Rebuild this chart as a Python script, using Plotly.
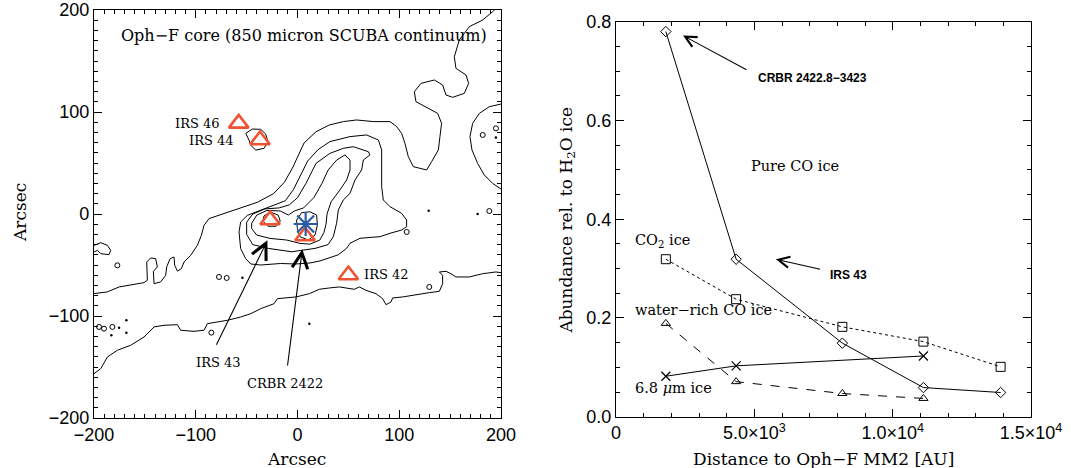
import plotly.graph_objects as go

# ---------------- Left panel: Oph-F core, 850 micron SCUBA contours ----------------
# Contour polylines in arcsec offsets (x, y)
ridge_north = [(-200, -78), (-187, -76.4), (-175.4, -71.5), (-164, -69.2), (-151, -67.3), (-147.6, -65),
               (-148.2, -47), (-144.3, -43.1), (-139.4, -43.8), (-137.8, -51.9), (-141.7, -56.2), (-141, -68.3),
               (-134.5, -66.6), (-129.6, -60.1), (-128.6, -51.9), (-125.3, -43.8), (-121.4, -42.1), (-120.7, -50.3),
               (-118, -56), (-114.2, -53.6), (-111.5, -47), (-105, -40.5), (-98.4, -30.7), (-94.5, -20.9),
               (-91.9, -11.1), (-87, -4.5), (-75.5, -0.6), (-62.4, 3.9), (-50, 7.5), (-39.5, 11.5), (-23.5, 20),
               (-13, 31), (-5, 45), (1, 58), (6.4, 69.6), (18.2, 80.7), (31.3, 87.3), (45, 90.6), (58.1, 92.2),
               (74.5, 90.6), (90.9, 90.6), (97.4, 85.7), (102.3, 79.1), (105.6, 69.3), (108.9, 56.2), (113.8, 46.4),
               (120.4, 44.8), (126.9, 43.2), (131.8, 51.3), (138.4, 62.8), (140, 75.9), (141.6, 89), (137.7, 98.7),
               (127.9, 103.6), (116.4, 110.1), (114.8, 119.9), (121.4, 128.1), (134.5, 131.4), (142.6, 126.5),
               (145.9, 116.7), (152.5, 114.4), (163.9, 118.3), (168.2, 128.1), (165.6, 136.3), (155.7, 142.8),
               (154.1, 154.2), (159, 170.6), (168.9, 183.7), (182, 190.2), (191.8, 198.4), (193.4, 200)]

ridge_south = [(-200, -156.5), (-193.4, -151.6), (-186.9, -140.2), (-177.1, -133.6), (-164, -128.7),
               (-150.9, -120.6), (-141, -110.7), (-131.2, -109.1), (-118.1, -108.5), (-114.8, -114),
               (-101.7, -115), (-91.9, -114), (-88.6, -107.5), (-69, -104.2), (-55.9, -101), (-46, -97.7),
               (-36.2, -92.8), (-23.1, -87.9), (-19.8, -83), (-10, -82.3), (-1.5, -81.3), (11.6, -78.1),
               (21.4, -73.8), (31.3, -72.5), (41.1, -71.5), (55.8, -73.8), (60.7, -71.5), (67.3, -74.8),
               (77.1, -78.1), (83.7, -83), (87, -88.9), (91.9, -86.2), (93.5, -82.3), (103.3, -81.3),
               (116.4, -79), (129.5, -77.1), (139.4, -75.8), (142.6, -68.3), (142.6, -60.1), (139.4, -56.8),
               (145.9, -56.2), (150.8, -58.5), (155.7, -61.7), (168.9, -61.7), (182, -58.5), (195, -56.8),
               (200, -57.5)]

east_bulge = [(200, 107.8), (188.5, 105.2), (178.7, 98.7), (172.1, 88.9), (169.5, 75.8), (171.5, 62.7),
              (177, 49.7), (183.6, 38.2), (191.8, 30), (198.3, 25.2), (200, 24.5)]

west_island = [(-200, -30.7), (-193.4, -28.1), (-186.9, -30.7), (-183.6, -35.6), (-185.3, -39.8),
               (-193.4, -38.9), (-196.7, -35.6), (-200, -37.2)]

irs44_clump = [(-50.9, 79.1), (-44.4, 83.3), (-36.2, 83), (-31.3, 78.4), (-29, 70.9), (-32.9, 64.4),
               (-41.1, 62.7), (-46, 67.6), (-47.7, 72.5), (-50.9, 79.1)]

core_level2 = [(31.9, 71), (51.6, 75.9), (67.9, 77.5), (79.4, 72.6), (82.7, 62.8), (82.7, 46.4), (82.7, 26.8),
               (84.3, 13.8), (90.9, 7.2), (102.3, 0.7), (107.2, -5.8), (107.2, -12.4), (102.3, -15.7),
               (90.9, -18.9), (81, -22.2), (61.4, -23.8), (51.6, -28.7), (48.3, -33.6), (40, -40), (22.1, -46),
               (12.3, -48), (-1.5, -49), (-16.5, -48.5), (-36.2, -50), (-46, -49), (-50.9, -43.8),
               (-55.9, -33.9), (-57.5, -17.6), (-55.9, -7.8), (-49.3, -1.3), (-38.5, 3), (-25.4, 7.5),
               (-12, 13), (-4, 24), (3, 38), (10, 52), (20, 63), (31.9, 71)]

core_level3 = [(31.9, 59.5), (45, 64.4), (54.8, 66), (64.7, 62.8), (69.6, 61.1), (71.2, 57.9), (64.7, 53),
               (63, 43.2), (56.5, 33.4), (51.6, 20.3), (45, 13.8), (40.1, 4), (38.4, -9.1), (35.2, -22.2),
               (30, -30), (17.2, -33.7), (-5.8, -37), (-28.7, -33.7), (-44, -30), (-50, -20), (-50, -8),
               (-44, 0), (-32, 5), (-18, 6), (-8, 9), (0, 16), (8.3, 30), (18.2, 49.7), (31.9, 59.5)]

core_level4 = [(-45, -9), (-40, -1), (-30, 3.5), (-17, 3), (-9, -1), (-3, 3), (6, 6), (16, 16), (24, 30),
               (30, 43), (38.5, 52.9), (46.6, 57.9), (51.6, 53), (51.6, 43.2), (48.3, 33.4), (41.7, 23.6),
               (33, 12), (29, 0), (28, -10), (26, -18), (22, -25.5), (12.2, -29.5), (2.4, -28.8),
               (-10.7, -25.5), (-27.1, -23.9), (-40.2, -20.6), (-45.1, -14.1), (-45, -9)]

peak_irs43 = [(-33, -2), (-27, 2), (-19, -1), (-17, -7), (-21, -12), (-29, -12), (-34, -7), (-33, -2)]

peak_mm2 = [(-0.9, -5.9), (4, 1.3), (12.2, 2.2), (18.8, -1), (19.5, -10.8), (17.2, -20.6), (10.6, -25.5),
            (2.4, -22.3), (-0.2, -14.1), (-0.9, -5.9)]

contour_lines = [ridge_north, ridge_south, east_bulge, west_island, irs44_clump,
                 core_level2, core_level3, core_level4, peak_irs43, peak_mm2]

# Small isolated contour islands (open) and single-pixel dots
islet_x = [-177.1, -77.2, -69.6, -84.7, 107.3, 188.5, 129.5, -195.1, -190.2, -182, 182, 195]
islet_y = [-50.3, -61.7, -62.7, -116.3, -17.6, 2.9, -71.5, -110.7, -112.4, -110.7, 77.5, 84]
dot_x = [-54.2, -168.2, -168.2, -183, 11.6, 128.9, 177, -175.4, 195]
dot_y = [-62.4, -104.2, -116.3, -118.9, -107.5, 3.3, 0, -111.4, 75]

# Infrared sources
yso_names = ["IRS 46", "IRS 44", "IRS 43", "CRBR 2422", "IRS 42"]
yso_x = [-57.8, -36.9, -27, 7.4, 50]
yso_y = [88.9, 72.5, -5.9, -21.6, -59.8]
mm2_x = [8]
mm2_y = [-9.8]

# ---------------- Right panel: ice abundances vs distance ----------------
pure_co_dist = [1800, 4340, 8180, 11110, 13900]
pure_co_abund = [0.78, 0.319, 0.149, 0.059, 0.049]
co2_dist = [1800, 4340, 8180, 11110, 13900]
co2_abund = [0.319, 0.238, 0.182, 0.152, 0.101]
wr_co_dist = [1800, 4340, 8180, 11110]
wr_co_abund = [0.189, 0.071, 0.047, 0.037]
ice68_dist = [1800, 4340, 11110]
ice68_abund = [0.082, 0.103, 0.123]

x2_tickvals = [0, 5000, 10000, 15000]
x2_ticktext = ["0", "5.0×10<sup>3</sup>", "1.0×10<sup>4</sup>", "1.5×10<sup>4</sup>"]

BLACK = "black"
SOURCE_RED = "#ee5230"
MM2_BLUE = "#2a5aa8"
SERIF = "DejaVu Serif"
SANS = "Liberation Sans"

fig = go.Figure()

for line in contour_lines:
    fig.add_trace(go.Scatter(x=[p[0] for p in line], y=[p[1] for p in line], mode="lines",
                             line=dict(color=BLACK, width=1), xaxis="x", yaxis="y",
                             hoverinfo="skip", showlegend=False))

fig.add_trace(go.Scatter(x=islet_x, y=islet_y, mode="markers",
                         marker=dict(symbol="circle-open", size=5, color=BLACK, line=dict(width=1)),
                         xaxis="x", yaxis="y", showlegend=False))
fig.add_trace(go.Scatter(x=dot_x, y=dot_y, mode="markers",
                         marker=dict(symbol="circle", size=2.5, color=BLACK),
                         xaxis="x", yaxis="y", showlegend=False))

fig.add_trace(go.Scatter(x=yso_x, y=yso_y, mode="markers", text=yso_names,
                         marker=dict(symbol="triangle-up-open", size=17, color=SOURCE_RED,
                                     line=dict(width=2.6, color=SOURCE_RED)),
                         xaxis="x", yaxis="y", showlegend=False))
fig.add_trace(go.Scatter(x=mm2_x, y=mm2_y, mode="markers",
                         marker=dict(symbol="asterisk-open", size=20, color=MM2_BLUE,
                                     line=dict(width=2.2, color=MM2_BLUE)),
                         xaxis="x", yaxis="y", showlegend=False))

# Right panel series
fig.add_trace(go.Scatter(x=pure_co_dist, y=pure_co_abund, mode="lines+markers", name="Pure CO ice",
                         line=dict(color=BLACK, width=1),
                         marker=dict(symbol="diamond-open", size=8, color=BLACK, line=dict(width=1)),
                         xaxis="x2", yaxis="y2", showlegend=False))
fig.add_trace(go.Scatter(x=co2_dist, y=co2_abund, mode="lines+markers", name="CO2 ice",
                         line=dict(color=BLACK, width=1, dash="dot"),
                         marker=dict(symbol="square-open", size=9, color=BLACK, line=dict(width=1)),
                         xaxis="x2", yaxis="y2", showlegend=False))
fig.add_trace(go.Scatter(x=wr_co_dist, y=wr_co_abund, mode="lines+markers", name="water-rich CO ice",
                         line=dict(color=BLACK, width=1, dash="dash"),
                         marker=dict(symbol="triangle-up-open", size=8, color=BLACK, line=dict(width=1)),
                         xaxis="x2", yaxis="y2", showlegend=False))
fig.add_trace(go.Scatter(x=ice68_dist, y=ice68_abund, mode="lines+markers", name="6.8 micron ice",
                         line=dict(color=BLACK, width=1),
                         marker=dict(symbol="x-thin-open", size=9, color=BLACK, line=dict(width=1.2)),
                         xaxis="x2", yaxis="y2", showlegend=False))

annotations = []


def label(text, x, y, ref, size, family=SERIF, xanchor="left", yanchor="middle"):
    annotations.append(dict(text=text, x=x, y=y, xref=ref[0], yref=ref[1], showarrow=False,
                            xanchor=xanchor, yanchor=yanchor,
                            font=dict(family=family, size=size, color=BLACK)))


def arrow(x, y, ax, ay, ref, size):
    annotations.append(dict(text="", x=x, y=y, ax=ax, ay=ay, xref=ref[0], yref=ref[1],
                            axref=ref[0], ayref=ref[1], showarrow=True, arrowhead=5,
                            arrowsize=size, arrowwidth=1.1, arrowcolor=BLACK, standoff=0))


left = ("x", "y")
right = ("x2", "y2")

label("Oph\u2212F core (850 micron SCUBA continuum)", 6, 175, left, 16, xanchor="center")
label("IRS 46", -74, 89, left, 13, xanchor="right")
label("IRS 44", -60, 72, left, 13, xanchor="right")
label("IRS 42", 63, -59.5, left, 13, xanchor="left")
label("IRS 43", -78, -145.5, left, 13, xanchor="center")
label("CRBR 2422", -12, -166, left, 13, xanchor="center")
arrow(-29.6, -25.8, -80.4, -129.7, left, 2.8)
arrow(4.7, -34.6, -10, -150, left, 2.8)

label("Pure CO ice", 4800, 0.508, right, 14.5)
label("CO<sub>2</sub> ice", 600, 0.356, right, 14.5)
label("water\u2212rich CO ice", 600, 0.216, right, 14.5)
label("6.8 <i>\u03bc</i>m ice", 600, 0.058, right, 14.5)
label("<b>CRBR 2422.8\u22123423</b>", 5050, 0.687, right, 12, family=SANS)
label("<b>IRS 43</b>", 7660, 0.286, right, 12, family=SANS)
arrow(2420, 0.772, 4770, 0.701, right, 2.0)
arrow(5780, 0.319, 7430, 0.298, right, 2.0)

# Axis titles
annotations.append(dict(text="Arcsec", x=0.0187, y=0.545, xref="paper", yref="paper", showarrow=False,
                        textangle=-90, xanchor="center", yanchor="middle",
                        font=dict(family=SERIF, size=17, color=BLACK)))
annotations.append(dict(text="Arcsec", x=0.2773, y=0.0192, xref="paper", yref="paper", showarrow=False,
                        xanchor="center", yanchor="middle",
                        font=dict(family=SERIF, size=17, color=BLACK)))
annotations.append(dict(text="Abundance rel. to H<sub>2</sub>O ice", x=0.530, y=0.53, xref="paper",
                        yref="paper", showarrow=False, textangle=-90, xanchor="center", yanchor="middle",
                        font=dict(family=SERIF, size=17, color=BLACK)))
annotations.append(dict(text="Distance to Oph\u2212F MM2 [AU]", x=0.7685, y=0.0192, xref="paper",
                        yref="paper", showarrow=False, xanchor="center", yanchor="middle",
                        font=dict(family=SERIF, size=17, color=BLACK)))

axis_common = dict(showline=True, linecolor=BLACK, linewidth=1.2, mirror="allticks", ticks="inside",
                   ticklen=8, tickcolor=BLACK, tickwidth=1, showgrid=False, zeroline=False,
                   automargin=False, tickfont=dict(family=SANS, size=18, color=BLACK))

fig.update_layout(
    template="none",
    width=1071, height=468,
    margin=dict(l=0, r=0, t=0, b=0, autoexpand=False),
    paper_bgcolor="white", plot_bgcolor="white",
    showlegend=False,
    annotations=annotations,
    xaxis=dict(domain=[0.0878, 0.4678], range=[-200, 200], dtick=100, anchor="y",
               minor=dict(dtick=10, ticklen=4, ticks="inside", tickcolor=BLACK), **axis_common),
    yaxis=dict(domain=[0.1068, 0.9786], range=[-200, 200], dtick=100, anchor="x",
               minor=dict(dtick=10, ticklen=4, ticks="inside", tickcolor=BLACK), **axis_common),
    xaxis2=dict(domain=[0.5752, 0.9627], range=[0, 15000], tickvals=x2_tickvals, ticktext=x2_ticktext,
                anchor="y2", minor=dict(dtick=1000, ticklen=4, ticks="inside", tickcolor=BLACK),
                **axis_common),
    yaxis2=dict(domain=[0.1096, 0.9536], range=[0, 0.8], dtick=0.2, tickformat=".1f", anchor="x2",
                minor=dict(dtick=0.05, ticklen=4, ticks="inside", tickcolor=BLACK), **axis_common),
)

fig.write_html("out.html")
